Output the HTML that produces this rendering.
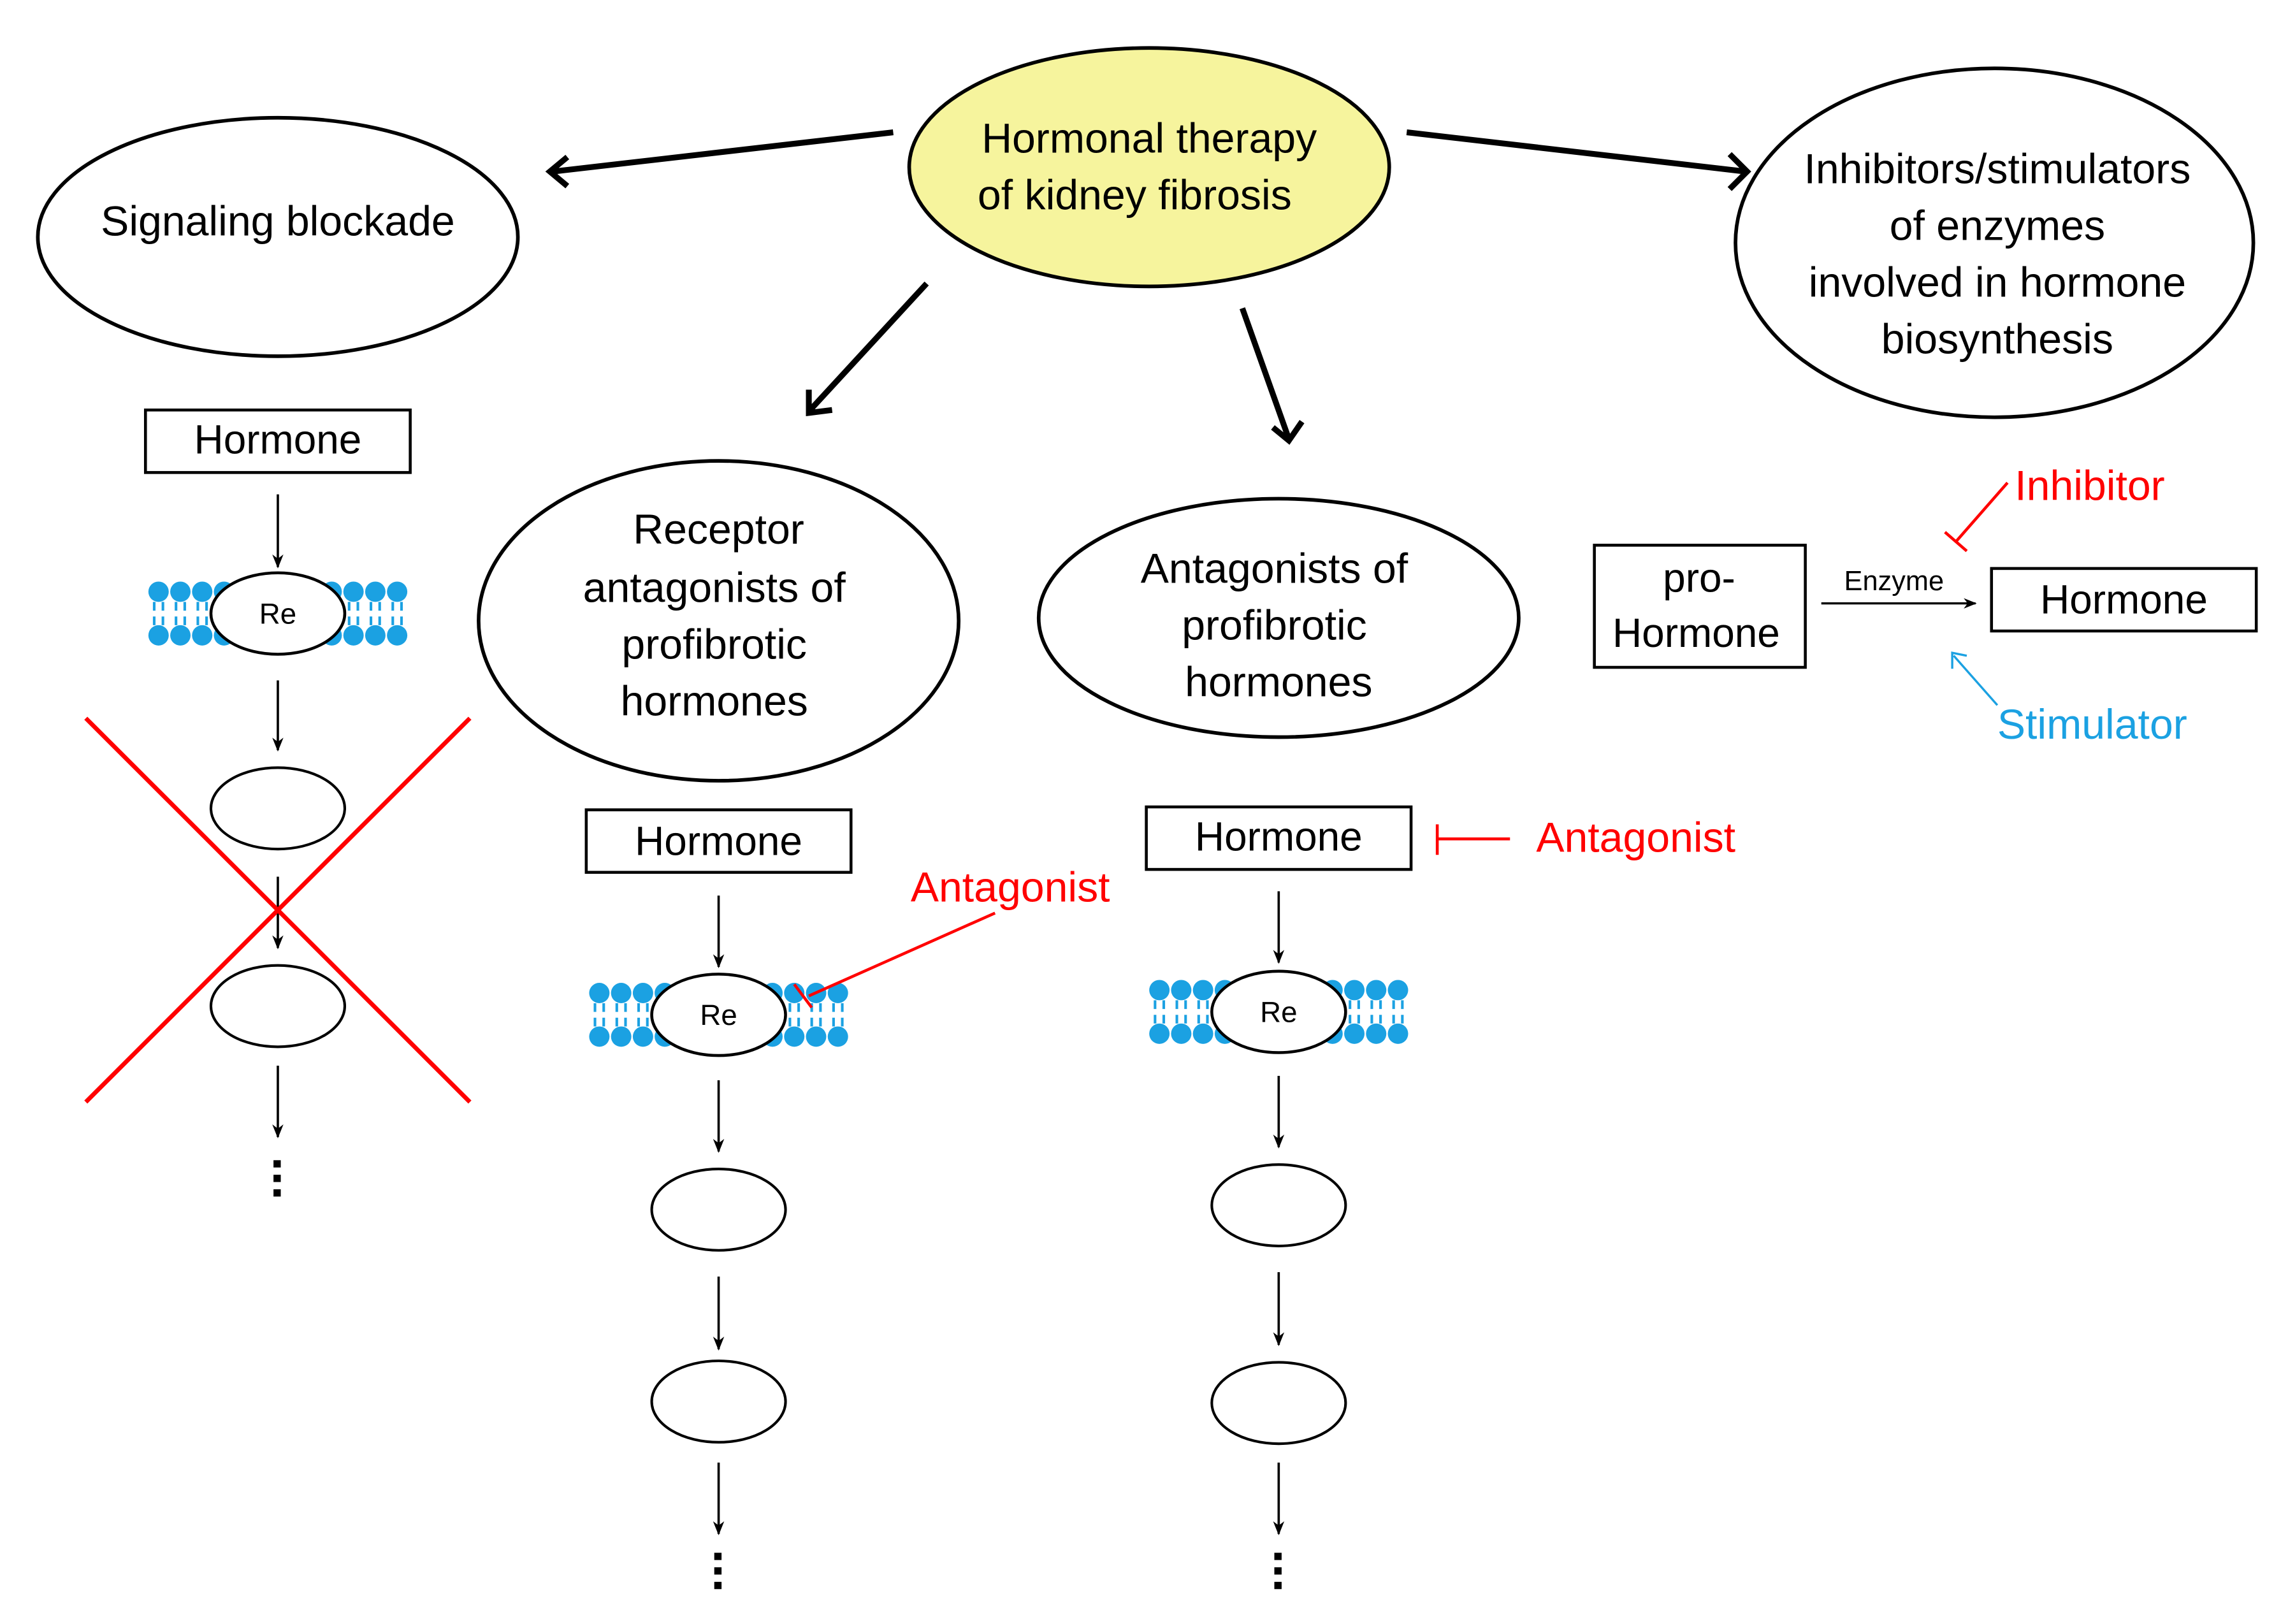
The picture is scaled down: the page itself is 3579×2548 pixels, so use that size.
<!DOCTYPE html>
<html><head><meta charset="utf-8"><style>
html,body{margin:0;padding:0;background:#fff}
svg{display:block}
text{font-family:"Liberation Sans",sans-serif}
</style></head><body>
<svg width="3579" height="2548" viewBox="0 0 1568 1117" preserveAspectRatio="none" xmlns="http://www.w3.org/2000/svg">
<defs>
<marker id="a" viewBox="0 0 10 10" refX="9" refY="5" markerWidth="6" markerHeight="6" orient="auto"><path d="M0,1 L10,5 L0,9 L3,5z" fill="#000"/></marker>
<g id="mem">
 <g fill="#1ba1e2">
  <circle cx="-82" cy="-15" r="7"/><circle cx="-67" cy="-15" r="7"/><circle cx="-52" cy="-15" r="7"/><circle cx="-37" cy="-15" r="7"/>
  <circle cx="-82" cy="15" r="7"/><circle cx="-67" cy="15" r="7"/><circle cx="-52" cy="15" r="7"/><circle cx="-37" cy="15" r="7"/>
  <circle cx="37" cy="-15" r="7"/><circle cx="52" cy="-15" r="7"/><circle cx="67" cy="-15" r="7"/><circle cx="82" cy="-15" r="7"/>
  <circle cx="37" cy="15" r="7"/><circle cx="52" cy="15" r="7"/><circle cx="67" cy="15" r="7"/><circle cx="82" cy="15" r="7"/>
 </g>
 <g stroke="#1ba1e2" stroke-width="1.8">
  <path d="M-85,-8V-2M-79,-8V-2M-70,-8V-2M-64,-8V-2M-55,-8V-2M-49,-8V-2M-40,-8V-2M-34,-8V-2M85,-8V-2M79,-8V-2M70,-8V-2M64,-8V-2M55,-8V-2M49,-8V-2M40,-8V-2M34,-8V-2"/>
  <path d="M-85,2V8M-79,2V8M-70,2V8M-64,2V8M-55,2V8M-49,2V8M-40,2V8M-34,2V8M85,2V8M79,2V8M70,2V8M64,2V8M55,2V8M49,2V8M40,2V8M34,2V8"/>
 </g>
 <ellipse cx="0" cy="0" rx="46" ry="28" fill="#fff" stroke="#000" stroke-width="2"/>
 <text x="0" y="7" font-size="20" text-anchor="middle">Re</text>
</g>
</defs>
<g fill="none" stroke="#000" stroke-width="2.5">
<ellipse cx="790" cy="115" rx="165" ry="82" fill="#f6f49d"/>
<ellipse cx="191" cy="163" rx="165" ry="82"/>
<ellipse cx="1371" cy="167" rx="178" ry="120"/>
<ellipse cx="494" cy="427" rx="165" ry="110"/>
<ellipse cx="879" cy="425" rx="165" ry="82"/>
</g>
<g stroke="#000" stroke-width="4" fill="none">
<path d="M614,91 L380,118 M390,108 L378,118 L390,128"/>
<path d="M967,91 L1200,118 M1189,106 L1201,118 L1189,130"/>
<path d="M637,195 L556,283 M556,268 L556,284 L572,282"/>
<path d="M854,212 L886,302 M875,294 L886,303 L895,290"/>
</g>
<g font-size="29" text-anchor="middle" fill="#000">
<text x="790" y="105">Hormonal therapy</text><text x="780" y="144">of kidney fibrosis</text>
<text x="191" y="162">Signaling blockade</text>
<text x="1373" y="126">Inhibitors/stimulators</text><text x="1373" y="165">of enzymes</text><text x="1373" y="204">involved in hormone</text><text x="1373" y="243">biosynthesis</text>
<text x="494" y="374">Receptor</text><text x="491" y="414">antagonists of</text><text x="491" y="453">profibrotic</text><text x="491" y="492">hormones</text>
<text x="876" y="401">Antagonists of</text><text x="876" y="440">profibrotic</text><text x="879" y="479">hormones</text>
</g>
<g fill="#fff" stroke="#000" stroke-width="2">
<rect x="100" y="282" width="182" height="43"/>
<rect x="403" y="557" width="182" height="43"/>
<rect x="788" y="555" width="182" height="43"/>
<rect x="1096" y="375" width="145" height="84"/>
<rect x="1369" y="391" width="182" height="43"/>
</g>
<g font-size="28" text-anchor="middle">
<text x="191" y="312">Hormone</text><text x="494" y="588">Hormone</text><text x="879" y="585">Hormone</text>
<text x="1460" y="422">Hormone</text><text x="1168" y="407">pro-</text><text x="1166" y="445">Hormone</text>
</g>
<text x="1302" y="406" font-size="19" text-anchor="middle">Enzyme</text>
<line x1="1252" y1="415" x2="1358" y2="415" stroke="#000" stroke-width="1.5" marker-end="url(#a)"/>
<use href="#mem" x="191" y="422"/>
<use href="#mem" x="494" y="698"/>
<use href="#mem" x="879" y="696"/>
<g stroke="#000" stroke-width="1.6" fill="none" marker-end="url(#a)">
<line x1="191" y1="340" x2="191" y2="390"/><line x1="191" y1="468" x2="191" y2="516"/><line x1="191" y1="603" x2="191" y2="652"/><line x1="191" y1="733" x2="191" y2="782"/>
<line x1="494" y1="616" x2="494" y2="665"/><line x1="494" y1="743" x2="494" y2="792"/><line x1="494" y1="878" x2="494" y2="928"/><line x1="494" y1="1006" x2="494" y2="1055"/>
<line x1="879" y1="613" x2="879" y2="662"/><line x1="879" y1="740" x2="879" y2="789"/><line x1="879" y1="875" x2="879" y2="925"/><line x1="879" y1="1006" x2="879" y2="1055"/>
</g>
<g fill="#fff" stroke="#000" stroke-width="1.8">
<ellipse cx="191" cy="556" rx="46" ry="28"/><ellipse cx="191" cy="692" rx="46" ry="28"/>
<ellipse cx="494" cy="832" rx="46" ry="28"/><ellipse cx="494" cy="964" rx="46" ry="28"/>
<ellipse cx="879" cy="829" rx="46" ry="28"/><ellipse cx="879" cy="965" rx="46" ry="28"/>
</g>
<g fill="#000">
<rect x="188" y="798" width="5" height="5"/><rect x="188" y="808" width="5" height="5"/><rect x="188" y="818" width="5" height="5"/>
<rect x="491" y="1068" width="5" height="5"/><rect x="491" y="1078" width="5" height="5"/><rect x="491" y="1088" width="5" height="5"/>
<rect x="876" y="1068" width="5" height="5"/><rect x="876" y="1078" width="5" height="5"/><rect x="876" y="1088" width="5" height="5"/>
</g>
<g stroke="#f00" stroke-width="3">
<line x1="59" y1="494" x2="323" y2="758"/><line x1="323" y1="494" x2="59" y2="758"/>
</g>
<g stroke="#f00" stroke-width="2" fill="none">
<line x1="684" y1="628" x2="556" y2="685"/><line x1="546" y1="677" x2="558" y2="693"/>
<line x1="1038" y1="577" x2="988" y2="577"/><line x1="988" y1="567" x2="988" y2="588"/>
<line x1="1380" y1="332" x2="1345" y2="372"/><line x1="1337" y1="366" x2="1352" y2="379"/>
</g>
<g stroke="#1ba1e2" stroke-width="1.5" fill="none">
<line x1="1373" y1="485" x2="1343" y2="451"/><path d="M1342,460 L1342,449 L1352,451"/>
</g>
<g font-size="29" fill="#f00">
<text x="626" y="620">Antagonist</text>
<text x="1056" y="586">Antagonist</text>
<text x="1385" y="344">Inhibitor</text>
</g>
<text x="1373" y="508" font-size="29" fill="#1ba1e2">Stimulator</text>
</svg>
</body></html>
